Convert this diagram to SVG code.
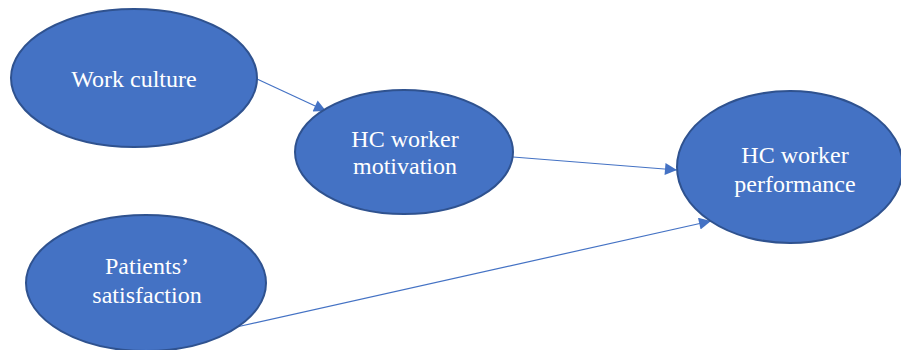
<svg xmlns="http://www.w3.org/2000/svg" width="901" height="350" viewBox="0 0 901 350">
<style>
.node{fill:#4472C4;stroke:#2F528F;stroke-width:2}
.lbl{font-family:"Liberation Serif","Times New Roman",serif;font-size:24px;fill:#FFFFFF;text-anchor:middle}
.edge{stroke:#4472C4;stroke-width:1.2;fill:none}
</style>
<defs>
<marker id="arr" viewBox="0 0 10 10" refX="10" refY="5" markerWidth="13" markerHeight="12" markerUnits="userSpaceOnUse" orient="auto">
<path d="M0,0 L10,5 L0,10 Z" fill="#4472C4"/>
</marker>
</defs>
<rect width="901" height="350" fill="#FFFFFF"/>
<g id="connectors">
<line class="edge" x1="257" y1="79" x2="326" y2="111" marker-end="url(#arr)"/>
<line class="edge" x1="513" y1="157" x2="677" y2="170" marker-end="url(#arr)"/>
<line class="edge" x1="232" y1="328" x2="711" y2="221" marker-end="url(#arr)"/>
</g>
<g id="work-culture">
<ellipse class="node" cx="134" cy="78" rx="123" ry="69"/>
<text class="lbl" x="134" y="87">Work culture</text>
</g>
<g id="hc-worker-motivation">
<ellipse class="node" cx="404" cy="152" rx="109" ry="62"/>
<text class="lbl" x="405" y="147">HC worker</text>
<text class="lbl" x="405" y="174">motivation</text>
</g>
<g id="hc-worker-performance">
<ellipse class="node" cx="790" cy="167" rx="113" ry="76"/>
<text class="lbl" x="795" y="163">HC worker</text>
<text class="lbl" x="795" y="192">performance</text>
</g>
<g id="patients-satisfaction">
<ellipse class="node" cx="146" cy="283" rx="120" ry="68"/>
<text class="lbl" x="147" y="274">Patients’</text>
<text class="lbl" x="147" y="303">satisfaction</text>
</g>
</svg>
